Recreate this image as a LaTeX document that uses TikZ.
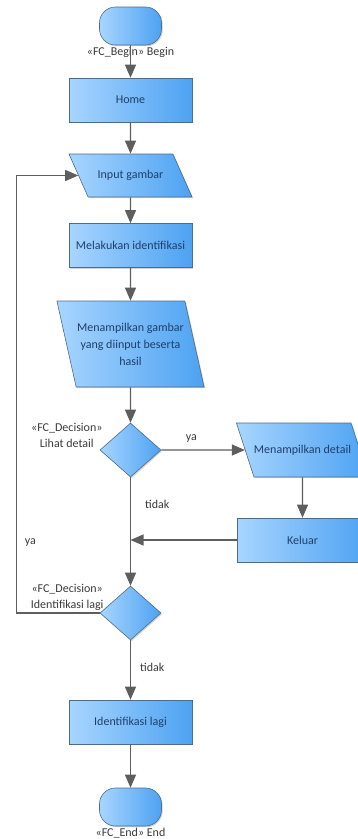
\documentclass[tikz,border=0pt]{standalone}
\usepackage{fontspec}
\setmainfont{Carlito}
\usetikzlibrary{shapes,arrows.meta,positioning,shadows}

\definecolor{boxlight}{HTML}{A8D5FF}
\definecolor{boxdark}{HTML}{4DA2F2}
\definecolor{boxline}{HTML}{4C6C8C}
\definecolor{boxtext}{HTML}{1F3F6A}
\definecolor{linegray}{HTML}{5E5E5E}
\definecolor{labelgray}{HTML}{3A3A3A}

\tikzset{
  base/.style={draw=boxline, line width=0.6pt, left color=boxlight, right color=boxdark,
    text=boxtext, font=\fontsize{12}{17}\selectfont, align=center,
    drop shadow={shadow xshift=1.2pt, shadow yshift=-1.2pt, opacity=0.35}},
  terminal/.style={base, rectangle, rounded corners=16pt, minimum width=62pt, minimum height=38pt},
  process/.style={base, rectangle, minimum width=123pt, minimum height=44pt, inner sep=1pt},
  io/.style={base, trapezium, trapezium left angle=114, trapezium right angle=66,
    trapezium stretches body, minimum width=123pt, minimum height=43pt,
    inner xsep=1pt, inner ysep=16pt, text height=8.5pt, text depth=2.5pt},
  decision/.style={base, diamond, minimum width=61pt, minimum height=54pt, inner sep=0pt},
  note/.style={text=labelgray, font=\fontsize{12}{16}\selectfont, align=center, inner sep=0pt},
  flow/.style={draw=linegray, line width=1.2pt},
  every edge/.style={flow}
}

\begin{document}
\begin{tikzpicture}[->,>={Triangle[width=11pt,length=13pt]},node distance=75pt]

  \useasboundingbox (0,0) rectangle (357pt,-839pt);

  \node[terminal] (begin) at (130.5pt,-26pt) {};
  \node[note, below=2pt of begin] (beginlbl) {«FC\_Begin» Begin};
  \node[process]  (home)   [below of=begin, node distance=74pt]   {Home};
  \node[io]       (input)  [below of=home, node distance=75.5pt]  {Input gambar};
  \node[process]  (ident)  [below of=input, node distance=70pt]   {Melakukan identifikasi};
  \node[io, trapezium left angle=103, trapezium right angle=77,
        minimum width=132pt, minimum height=86pt, inner ysep=20.5pt,
        text height=, text depth=]
                  (show)   [below of=ident, node distance=98.5pt]
                  {Menampilkan gambar\\ yang diinput beserta\\ hasil};
  \node[decision] (lihat)  [below of=show, node distance=106pt]   {};
  \node[io, trapezium left angle=108, trapezium right angle=72,
        minimum width=126pt, minimum height=54pt, inner xsep=0pt, inner ysep=21.5pt]
                  (detail) [right of=lihat, node distance=172pt] {Menampilkan detail};
  \node[process, minimum width=131pt]
                  (keluar) [below of=detail, node distance=90pt]  {Keluar};
  \node[decision] (lagi)   [below of=lihat, node distance=163pt]  {};
  \node[process]  (idlagi) [below of=lagi, node distance=109pt]   {Identifikasi lagi};
  \node[terminal] (end)    [below of=idlagi, node distance=85pt]  {};
  \node[note, below=2pt of end] (endlbl) {«FC\_End» End};

  % labels of the decisions
  \node[note, anchor=south east, xshift=3pt, yshift=2pt] (lihatlbl) at (lihat.west)
       {«FC\_Decision»\\ Lihat detail};
  \node[note, anchor=south east, xshift=4pt, yshift=2pt] (lagilbl) at (lagi.west)
       {«FC\_Decision»\\ Identifikasi lagi};

  \path (begin)  edge (home)
        (home)   edge (input)
        (input)  edge (ident)
        (ident)  edge (show)
        (show)   edge (lihat)
        (lihat)  edge node[note, above, pos=0.36, yshift=7pt] {ya} (detail)
                 edge node[note, right, pos=0.25, xshift=14pt] {tidak} (lagi)
        (detail) edge (keluar)
        (lagi)   edge node[note, right, pos=0.45, xshift=9pt] {tidak} (idlagi)
        (idlagi) edge (end);

  \draw[flow] (keluar.west) -- (keluar.west -| lihat.south);
  \draw[flow] (lagi.west) -- ([xshift=-83.5pt]lagi.west)
        |- node[note, right, pos=0.08, xshift=8pt] {ya} (input.west);
\end{tikzpicture}
\end{document}
